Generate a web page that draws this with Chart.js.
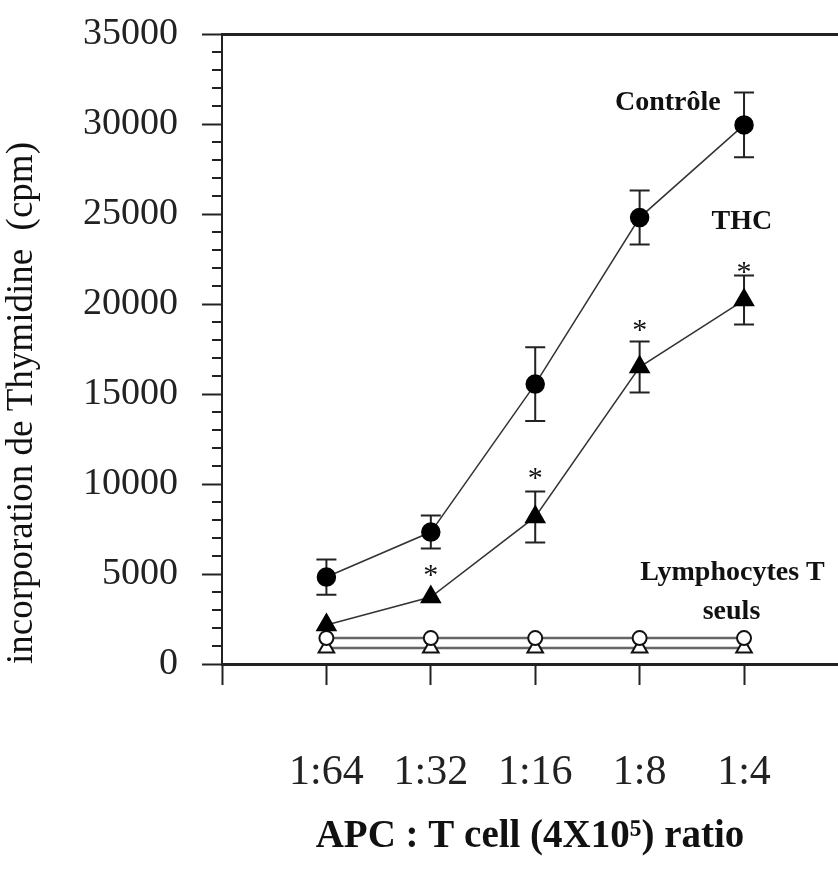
<!DOCTYPE html>
<html>
<head>
<meta charset="utf-8">
<script src="https://cdn.jsdelivr.net/npm/chart.js@4"></script>
<style>
  html, body { margin: 0; padding: 0; background: #fff; }
  canvas { display: block; }
</style>
</head>
<body>
<canvas id="chart" width="838" height="874"></canvas>
<script>
// values
const ratios = ['1:64', '1:32', '1:16', '1:8', '1:4'];
const controle = [4830, 7330, 15550, 24800, 29950];
const controleErr = [980, 920, 2050, 1500, 1800];
const thc = [2170, 3720, 8170, 16500, 20220];
const thcErr = [0, 0, 1420, 1420, 1360];
const lymphoT = [1440, 1440, 1440, 1440, 1440];       // open circles
const lymphoTThc = [890, 890, 890, 890, 890];         // open triangles
const starY = [null, 5220, 10610, 18830, 22050];      // significance marks
const xTicks = [0, 1, 2, 3, 4, 5];
const yMinorStep = 1000;

const serif = '"Liberation Serif", "Times New Roman", serif';
const pts = arr => arr.map((v, i) => ({ x: i + 1, y: v }));

// error bars, drawn under the markers
const errorBars = {
  id: 'errorBars',
  beforeDatasetsDraw(chart) {
    const { ctx, scales: { x, y } } = chart;
    ctx.save();
    ctx.strokeStyle = '#222';
    ctx.lineWidth = 2;
    [[controle, controleErr], [thc, thcErr]].forEach(([vals, errs]) => {
      vals.forEach((v, i) => {
        if (!errs[i]) return;
        const px = x.getPixelForValue(i + 1);
        const top = y.getPixelForValue(v + errs[i]);
        const bot = y.getPixelForValue(v - errs[i]);
        ctx.beginPath();
        ctx.moveTo(px, top); ctx.lineTo(px, bot);
        ctx.moveTo(px - 10, top); ctx.lineTo(px + 10, top);
        ctx.moveTo(px - 10, bot); ctx.lineTo(px + 10, bot);
        ctx.stroke();
      });
    });
    ctx.restore();
  }
};

// minor y ticks, stars and the in-plot labels
const extras = {
  id: 'extras',
  afterDraw(chart) {
    const { ctx, chartArea, scales: { x, y } } = chart;
    ctx.save();
    ctx.strokeStyle = '#222';
    ctx.lineWidth = 2;
    for (let v = 0; v <= y.max; v += yMinorStep) {
      if (v % 5000 === 0) continue;
      const py = y.getPixelForValue(v);
      ctx.beginPath();
      ctx.moveTo(chartArea.left - 10, py);
      ctx.lineTo(chartArea.left, py);
      ctx.stroke();
    }

    ctx.fillStyle = '#111';
    ctx.textAlign = 'center';
    ctx.textBaseline = 'alphabetic';
    ctx.font = '30px ' + serif;
    starY.forEach((v, i) => {
      if (v == null) return;
      ctx.fillText('*', x.getPixelForValue(i + 1), y.getPixelForValue(v) + 14);
    });

    ctx.font = 'bold 28px ' + serif;
    ctx.textBaseline = 'middle';
    ctx.fillText('Contrôle', x.getPixelForValue(4.27), y.getPixelForValue(31170));
    ctx.fillText('THC', x.getPixelForValue(4.98), y.getPixelForValue(24560));
    ctx.fillText('Lymphocytes T', x.getPixelForValue(4.89), y.getPixelForValue(5060));
    ctx.fillText('seuls', x.getPixelForValue(4.88), y.getPixelForValue(2890));
    ctx.restore();
  }
};

new Chart(document.getElementById('chart'), {
  type: 'line',
  data: {
    datasets: [
      { label: 'Contrôle', data: pts(controle), borderColor: '#333', borderWidth: 1.5,
        pointStyle: 'circle', pointRadius: 9, pointBackgroundColor: '#000', pointBorderColor: '#000' },
      { label: 'THC', data: pts(thc), borderColor: '#333', borderWidth: 1.5,
        pointStyle: 'triangle', pointRadius: 11, pointBackgroundColor: '#000', pointBorderColor: '#000' },
      { label: 'Lymphocytes T seuls', data: pts(lymphoT), borderColor: '#666', borderWidth: 2.5,
        pointStyle: 'circle', pointRadius: 7, pointBackgroundColor: '#fff', pointBorderColor: '#111', pointBorderWidth: 2 },
      { label: 'Lymphocytes T seuls + THC', data: pts(lymphoTThc), borderColor: '#666', borderWidth: 2.5,
        pointStyle: 'triangle', pointRadius: 9, pointBackgroundColor: '#fff', pointBorderColor: '#111', pointBorderWidth: 2 }
    ]
  },
  options: {
    responsive: false,
    animation: false,
    layout: { autoPadding: false, padding: { top: 34, right: 0, bottom: 0, left: 0 } },
    plugins: { legend: { display: false }, tooltip: { enabled: false } },
    scales: {
      x: {
        type: 'linear', position: 'bottom', min: 0, max: 5.9,
        afterBuildTicks: s => { s.ticks = xTicks.map(v => ({ value: v })); },
        afterFit: s => { s.height = 210; s.paddingLeft = 0; s.paddingRight = 0; },
        grid: { drawOnChartArea: false, tickLength: 21, tickColor: '#222', tickWidth: 2 },
        border: { color: '#222', width: 3 },
        ticks: {
          padding: 63, color: '#222', font: { family: serif, size: 42 },
          callback: v => ratios[v - 1] || ''
        },
        title: {
          display: true, text: 'APC : T cell (4X10⁵) ratio', color: '#111',
          font: { family: serif, size: 39, weight: 'bold' }, padding: { top: 0, bottom: 14 }
        }
      },
      xTop: {
        type: 'linear', position: 'top', min: 0, max: 5.9,
        afterFit: s => { s.height = 0; s.paddingLeft = 0; s.paddingRight = 0; },
        grid: { display: false },
        ticks: { display: false },
        border: { color: '#222', width: 3 }
      },
      y: {
        min: 0, max: 35000,
        afterFit: s => { s.width = 222; s.paddingTop = 0; s.paddingBottom = 0; },
        grid: { drawOnChartArea: false, tickLength: 20, tickColor: '#222', tickWidth: 2 },
        border: { color: '#222', width: 2 },
        ticks: { stepSize: 5000, padding: 24, color: '#222', font: { family: serif, size: 38 },
          callback: v => String(v) },
        title: {
          display: true, text: 'incorporation de Thymidine  (cpm)', align: 'start', color: '#111',
          font: { family: serif, size: 37 }, padding: { top: 0, bottom: 0 }
        }
      }
    }
  },
  plugins: [errorBars, extras]
});
</script>
</body>
</html>
